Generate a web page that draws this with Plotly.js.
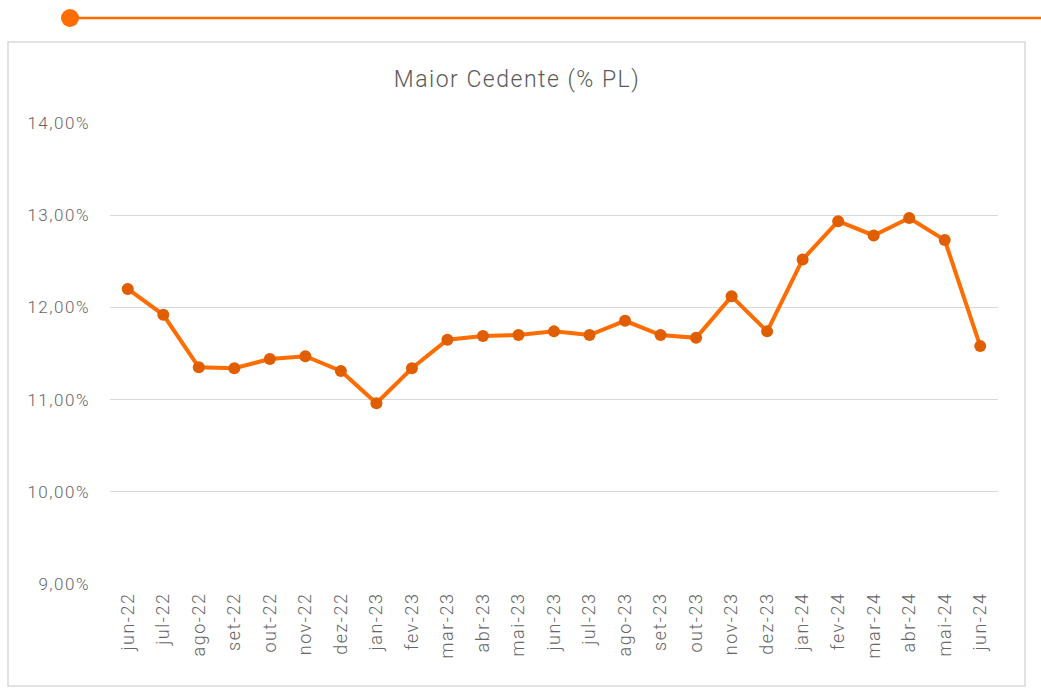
<!DOCTYPE html>
<html>
<head>
<meta charset="utf-8">
<script src="https://cdn.plot.ly/plotly-3.0.1.min.js"></script>
<style>
html,body{margin:0;padding:0;background:#fff;}
#chart{width:1041px;height:693px;}
#chart .xtick text{letter-spacing:1.5px;}
#chart .ytick text{letter-spacing:1.5px;}
#chart .gtitle{letter-spacing:1.5px;}
</style>
</head>
<body>
<div id="chart"></div>
<script>
const months = ["jun-22","jul-22","ago-22","set-22","out-22","nov-22","dez-22","jan-23","fev-23","mar-23","abr-23","mai-23","jun-23","jul-23","ago-23","set-23","out-23","nov-23","dez-23","jan-24","fev-24","mar-24","abr-24","mai-24","jun-24"];
const maiorCedente = [12.20,11.92,11.35,11.34,11.44,11.47,11.31,10.96,11.34,11.65,11.69,11.70,11.74,11.70,11.855,11.70,11.67,12.12,11.74,12.52,12.935,12.78,12.97,12.73,11.58];
const yTicks = [9,10,11,12,13,14];
const yTickText = yTicks.map(v => v.toFixed(2).replace('.', ',') + '%');

const W = 888, H = 461, L = 110, T = 123;
const px = x => (x - L) / W;
const py = y => (T + H - y) / H;

const trace = {
  x: months, y: maiorCedente, type: 'scatter', mode: 'lines+markers',
  line: {color: '#FF6C00', width: 4},
  marker: {color: '#E05E00', size: 12},
  hoverinfo: 'x+y'
};

const layout = {
  width: 1041, height: 693,
  margin: {l: L, r: 1041 - L - W, t: T, b: 693 - T - H},
  paper_bgcolor: '#ffffff', plot_bgcolor: '#ffffff',
  showlegend: false,
  font: {family: 'Roboto, sans-serif', color: '#666666'},
  title: {text: 'Maior Cedente (% PL)', x: 517/1041, xref: 'container', xanchor: 'center',
          y: 1 - 79/693, yref: 'container', yanchor: 'middle',
          font: {family: 'Roboto, sans-serif', size: 23, color: '#595959', weight: 300}},
  xaxis: {type: 'category', tickangle: -90, showgrid: false, showline: false, zeroline: false,
          ticks: '', ticklabelstandoff: 4, tickfont: {size: 18, color: '#666666', weight: 300},
          range: [-0.5, months.length - 0.5]},
  yaxis: {range: [9, 14], tickmode: 'array', tickvals: yTicks, ticktext: yTickText,
          showgrid: true, gridcolor: '#d9d9d9', gridwidth: 1.3, zeroline: false, showline: false,
          ticks: '', ticklabelstandoff: 19, tickfont: {size: 17, color: '#666666', weight: 300}},
  shapes: [
    {type: 'rect', xref: 'paper', yref: 'paper', x0: px(8), x1: px(1025), y0: py(686), y1: py(42),
     line: {color: '#d9d9d9', width: 1.5}, fillcolor: 'rgba(0,0,0,0)', layer: 'below'},
    {type: 'line', xref: 'paper', yref: 'paper', x0: px(70), x1: px(1041), y0: py(18), y1: py(18),
     line: {color: '#FF6C00', width: 2.5}},
    {type: 'circle', xref: 'paper', yref: 'paper', x0: px(61), x1: px(79), y0: py(27), y1: py(9),
     line: {color: '#FF6C00', width: 0}, fillcolor: '#FF6C00'}
  ]
};

Plotly.newPlot('chart', [trace], layout, {displayModeBar: false, staticPlot: true});
</script>
</body>
</html>
